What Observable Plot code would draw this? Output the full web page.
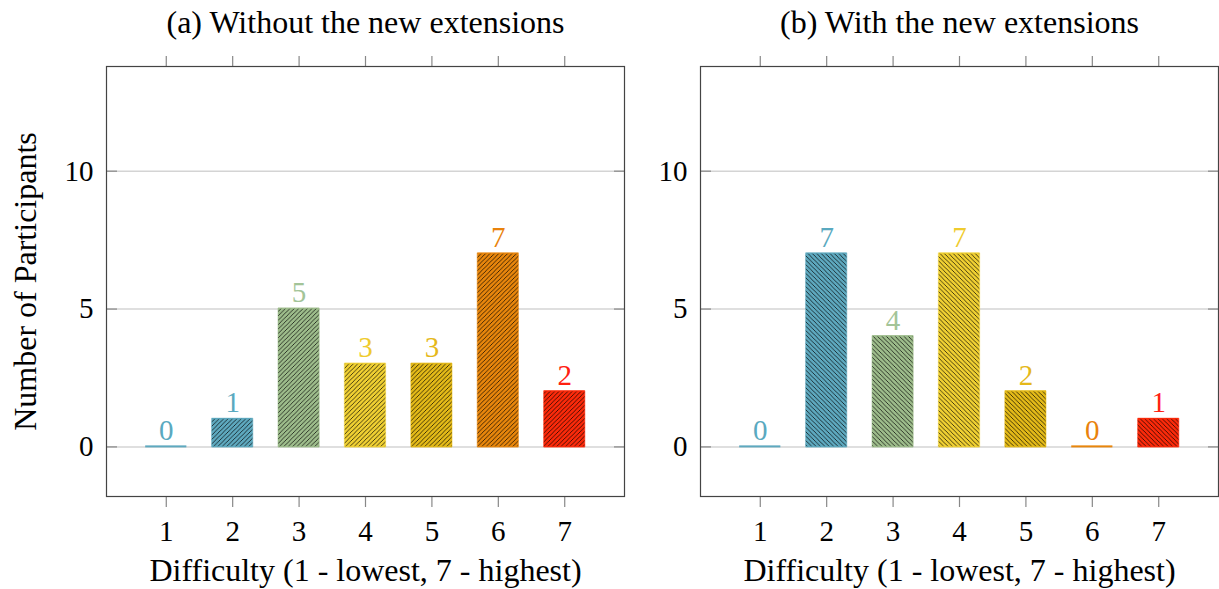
<!DOCTYPE html>
<html><head><meta charset="utf-8">
<script src="https://cdn.jsdelivr.net/npm/d3@7"></script>
<script src="https://cdn.jsdelivr.net/npm/@observablehq/plot@0.6"></script>
<style>
body{margin:0;background:#fff;width:1219px;height:589px;overflow:hidden;position:relative}
#a{position:absolute;left:0;top:0}
#b{position:absolute;left:660px;top:0}
</style>
</head><body><div id="a"></div><div id="b"></div>
<script>
const difficulty = [1, 2, 3, 4, 5, 6, 7];
const withoutExt = [0, 1, 5, 3, 3, 7, 2];
const withExt = [0, 7, 4, 7, 2, 0, 1];
const barColors = ["#5ea9bf", "#5ea9bf", "#9dbc8b", "#f0d032", "#e4ba18", "#e8860c", "#fc2a0a"];
const labelColors = ["#5aa9c0", "#5aa9c0", "#a3c498", "#efcb2e", "#e5b81a", "#e9820c", "#ff2010"];
const yTicks = [0, 5, 10];
const titles = ["(a) Without the new extensions", "(b) With the new extensions"];
const xLabel = "Difficulty (1 - lowest, 7 - highest)";
const yLabel = "Number of Participants";

const FONT = "'Liberation Serif', 'Times New Roman', serif";

function panel({values, title, patId, dir, width, left, showYLabel}) {
  const data = difficulty.map((d, i) => ({d, v: values[i], c: barColors[i], lc: labelColors[i]}));
  const hw = 0.31;
  const x1 = d => d.d - hw, x2 = d => d.d + hw;
  const svg = Plot.plot({
    width, height: 589,
    marginLeft: left, marginRight: width - left - 518, marginTop: 66, marginBottom: 93,
    x: {domain: [0.1, 7.9]},
    y: {domain: [-1.8, 13.8]},
    color: {type: "identity"},
    style: {fontFamily: FONT, fontSize: "29px", color: "#000", background: "#fff", overflow: "visible"},
    marks: [
      Plot.gridY(yTicks, {stroke: "#d4d4d4", strokeOpacity: 1, strokeWidth: 1.5}),
      Plot.rect(data, {x1, x2, y1: 0, y2: "v", fill: "c", insetTop: -1, insetBottom: -1}),
      Plot.rect(data, {x1, x2, y1: 0, y2: "v", fill: `url(#${patId})`}),
      Plot.rect(data, {x1, x2, y1: 0, y2: "v", fill: "none", stroke: "c", strokeOpacity: 0.45, strokeWidth: 1.2}),
      Plot.text(data, {x: "d", y: "v", text: d => String(d.v), fill: "lc", dy: -7, lineAnchor: "bottom", fontSize: 29}),
      Plot.axisY(yTicks, {anchor: "left", tickSize: -11, fill: "none", stroke: "#999", strokeWidth: 1.5, label: null}),
      Plot.axisY(yTicks, {anchor: "right", tickSize: -11, fill: "none", stroke: "#999", strokeWidth: 1.5, label: null}),
      Plot.axisY(yTicks, {anchor: "left", tickSize: 0, tickPadding: 13, label: null, fontSize: 29}),
      Plot.axisX(difficulty, {anchor: "top", tickSize: 11, fill: "none", stroke: "#888", strokeWidth: 1.2, label: null}),
      Plot.axisX(difficulty, {anchor: "bottom", tickSize: 11, tickPadding: 13, stroke: "#888", strokeWidth: 1.2, label: null, fontSize: 29}),
      Plot.frame({stroke: "#444", strokeWidth: 1.2}),
      Plot.text([title], {frameAnchor: "top", dy: -44, lineAnchor: "middle", fontSize: 32}),
      Plot.text([xLabel], {frameAnchor: "bottom", dy: 74, lineAnchor: "middle", fontSize: 32}),
      showYLabel ? Plot.text([yLabel], {frameAnchor: "left", dx: -81, rotate: -90, textAnchor: "middle", lineAnchor: "middle", fontSize: 32}) : null
    ]
  });
  const defs = d3.select(svg).insert("defs", ":first-child");
  const p = defs.append("pattern").attr("id", patId).attr("patternUnits", "userSpaceOnUse")
    .attr("width", 4.4).attr("height", 4.4);
  p.append("path")
    .attr("d", dir === "ne" ? "M0,4.4L4.4,0M-1,1L1,-1M3.4,5.4L5.4,3.4" : "M0,0L4.4,4.4M-1,3.4L1,5.4M3.4,-1L5.4,1")
    .attr("stroke", "#000").attr("stroke-width", 0.7).attr("fill", "none");
  return svg;
}

document.getElementById("a").appendChild(panel({values: withoutExt, title: titles[0], patId: "hatchNE", dir: "ne", width: 660, left: 106, showYLabel: true}));
document.getElementById("b").appendChild(panel({values: withExt, title: titles[1], patId: "hatchNW", dir: "nw", width: 559, left: 40, showYLabel: false}));
</script>
</body></html>
